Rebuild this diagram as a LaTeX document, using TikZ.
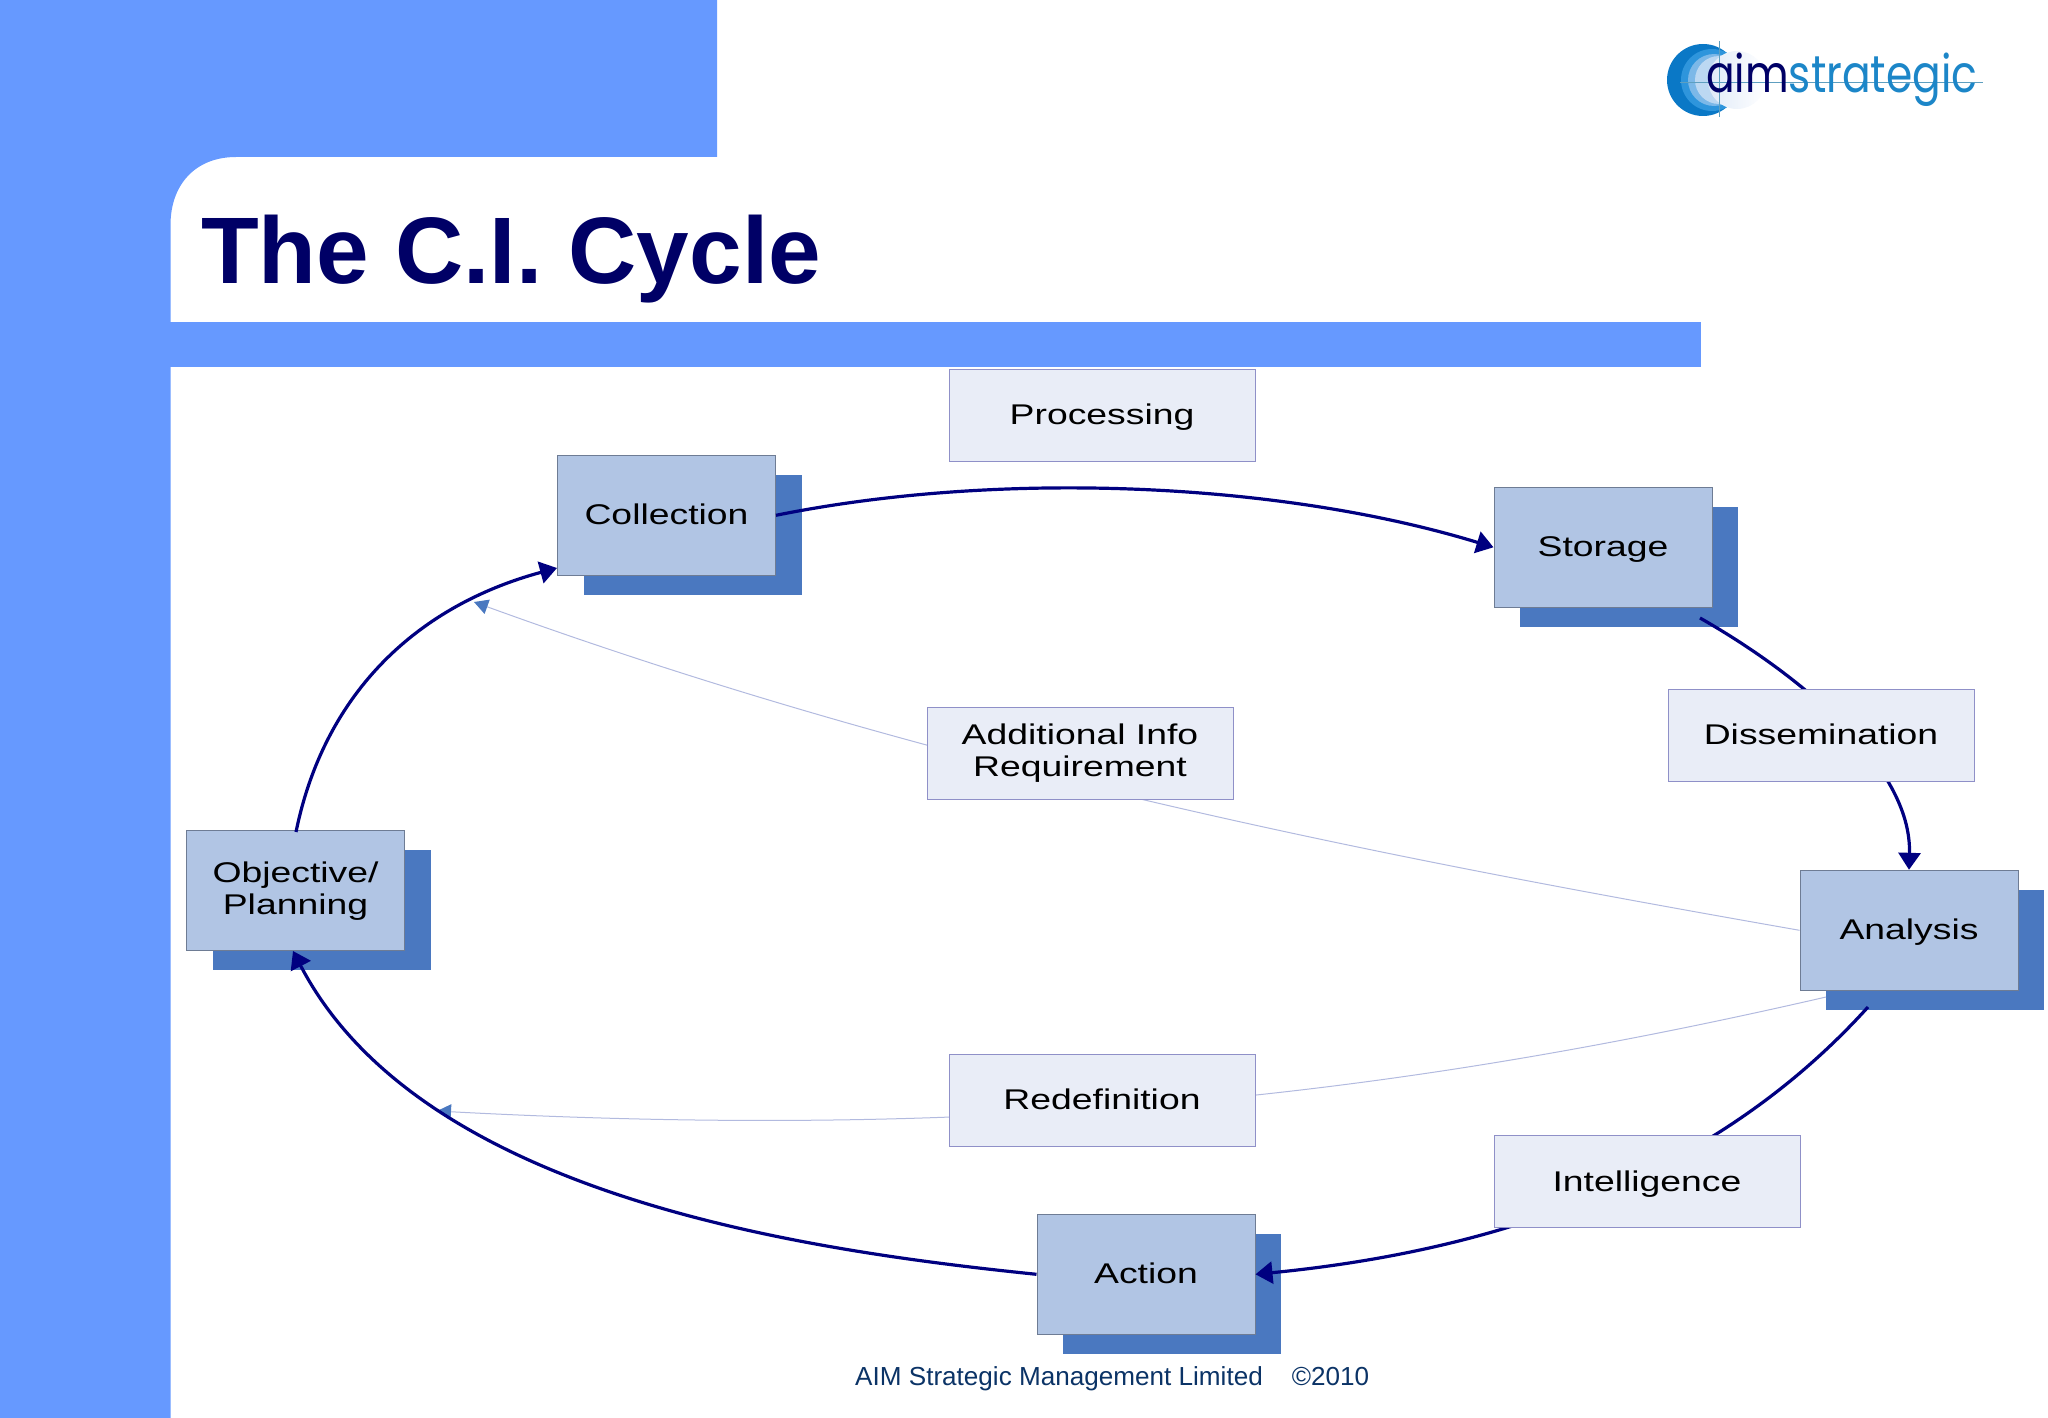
\documentclass[tikz,border=0pt]{standalone}
\usepackage{fontspec}
\setmainfont{Liberation Sans}
\newfontfamily\boxfont[FakeStretch=1.31]{Liberation Sans}
\newfontfamily\logofont[FakeStretch=0.815]{Poppins}
\usepackage{tikz}
\usetikzlibrary{arrows.meta,shadows}
\definecolor{bandblue}{HTML}{6699FF}
\definecolor{titlenavy}{HTML}{000066}
\definecolor{footnavy}{HTML}{0B3366}
\definecolor{shadowblue}{HTML}{4A78C0}
\definecolor{blockfill}{HTML}{B1C5E4}
\definecolor{blockline}{HTML}{6E7C94}
\definecolor{notefill}{HTML}{E9EDF7}
\definecolor{noteline}{HTML}{8F90C8}
\definecolor{flownavy}{HTML}{000080}
\definecolor{thinline}{HTML}{B2BADF}
\definecolor{logoline}{HTML}{5E9FC0}
\definecolor{logoblue}{HTML}{1C86C8}
\tikzstyle{block} = [draw=blockline, fill=blockfill, rectangle, line width=1pt,
    minimum height=120pt, minimum width=218pt, inner sep=0pt, align=center,
    text height=20.5pt, text depth=2pt,
    font=\boxfont\fontsize{28.5}{32}\selectfont,
    drop shadow={shadow xshift=26pt, shadow yshift=-19.3pt, fill=shadowblue, opacity=1}]
\tikzstyle{note} = [draw=noteline, fill=notefill, rectangle, line width=1pt,
    minimum height=92pt, minimum width=306pt, inner sep=0pt, align=center,
    text height=20.5pt, text depth=2pt,
    font=\boxfont\fontsize{28.5}{32}\selectfont]
\tikzstyle{twolines} = [text height=, text depth=]
\tikzstyle{flow} = [draw=flownavy, line width=3.2pt, -{Triangle[length=17pt,width=22pt]}]
\tikzstyle{feedback} = [draw=thinline, line width=1pt,
    -{Triangle[length=14pt,width=15pt,color=shadowblue]}]

\begin{document}
\begin{tikzpicture}[x=1pt,y=-1pt]
    \useasboundingbox (0,0) rectangle (2048,1418);

    \fill [bandblue] (0,0) -- (717,0) -- (717,157) -- (236,157)
        .. controls (195,157) and (170.5,185) .. (170.5,225)
        -- (170.5,1418) -- (0,1418) -- cycle;
    \fill [bandblue] (170,322) rectangle (1701,367);

    \fill [fill={rgb,255:red,10;green,120;blue,198}] (1703,80) circle (36);
    \fill [fill={rgb,255:red,46;green,149;blue,220}] (1712,80) circle (31);
    \fill [fill={rgb,255:red,124;green,184;blue,232}] (1714,80) circle (26);
    \fill [fill={rgb,255:red,188;green,216;blue,242}] (1719,80) circle (24);
    \shade [left color={rgb,255:red,224;green,234;blue,248}, right color=white] (1737,80) circle (29);
    \draw [logoline, line width=0.7pt] (1719,41) -- (1719,117);
    \draw [logoline, line width=0.7pt] (1680,82) -- (1983,82);
    \node [anchor=base west, inner sep=0pt, font=\logofont\fontsize{52}{52}\selectfont] (logo) at (1706,93)
        {\textcolor{titlenavy}{aim}\textcolor{logoblue}{strategic}};

    \node [anchor=base west, inner sep=0pt, text=titlenavy,
        font=\bfseries\fontsize{94.5}{100}\selectfont] (title) at (201,283) {The C.I. Cycle};

    \node [block, twolines] (objective) at (295.5,890.8) {Objective/ \\ Planning};
    \node [block, right of=objective, node distance=371pt, yshift=375.5pt] (collection) {Collection};
    \node [block, right of=collection, node distance=936.5pt, yshift=-32pt] (storage) {Storage};
    \node [block, right of=storage, node distance=306pt, yshift=-383pt] (analysis) {Analysis};
    \node [block, left of=analysis, node distance=763pt, yshift=-344pt] (action) {Action};

    \coordinate (storage_out) at (1700,618);
    \coordinate (analysis_out) at (1868,1007);
    \coordinate (objective_out) at (296,832);
    \coordinate (objective_in) at (293,951);
    \coordinate (redefine_out) at (1826,997);
    \coordinate (redefine_tip) at (437,1111);
    \coordinate (additional_tip) at (474,602);

    \draw [feedback] (analysis.west) .. controls (1400,860) and (950,775) .. (additional_tip);
    \draw [feedback] (redefine_out) .. controls (1400,1095) and (1000,1141) .. (redefine_tip);

    \draw [flow] (collection.east) .. controls (1000,470) and (1280,482) .. (storage.west);
    \draw [flow] (storage_out) .. controls (1795,672) and (1912,765) .. (analysis.north);
    \draw [flow] (analysis_out) .. controls (1755,1132) and (1575,1243) .. (action.east);
    \draw [flow] (action.west) .. controls (800,1250) and (420,1195) .. (objective_in);
    \draw [flow] (objective_out) .. controls (325,690) and (420,605) .. (collection.west |- 0,568);

    \node [note, right of=collection, node distance=435.5pt, yshift=100.3pt] (processing) {Processing};
    \node [note, right of=storage, node distance=218pt, yshift=-187.7pt] (dissemination) {Dissemination};
    \node [note, twolines, left of=dissemination, node distance=741pt, yshift=-18pt] (additional) {Additional Info \\ Requirement};
    \node [note, above of=action, node distance=174pt, xshift=-44pt] (redefinition) {Redefinition};
    \node [note, right of=redefinition, node distance=545pt, yshift=-81.5pt] (intelligence) {Intelligence};

    \node [anchor=base west, inner sep=0pt, text=footnavy, font=\fontsize{26.1}{30}\selectfont] (footer) at (855,1385)
        {AIM Strategic Management Limited\hspace{29pt}©2010};
\end{tikzpicture}
\end{document}
